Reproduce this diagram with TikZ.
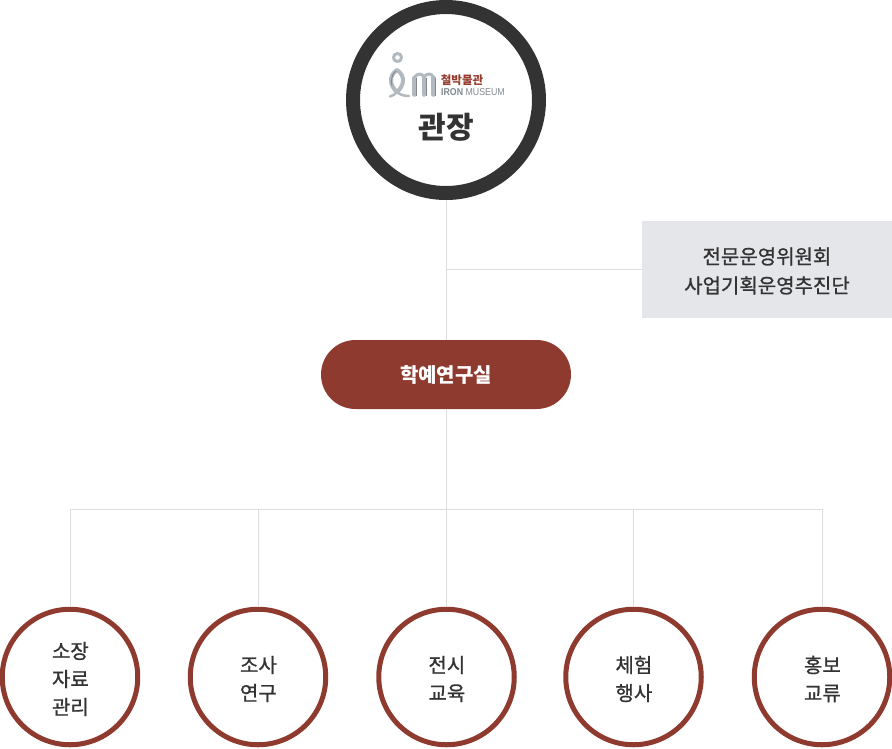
\documentclass[tikz,border=0pt]{standalone}
\usepackage{fontspec}
\setmainfont{Noto Sans CJK KR}
\newfontfamily\medkr[FakeBold=1]{Noto Sans CJK KR}
\newfontfamily\logoen{Liberation Sans}
\usetikzlibrary{positioning}
\definecolor{ringdark}{RGB}{51,51,51}
\definecolor{brick}{RGB}{143,58,46}
\definecolor{wire}{RGB}{221,221,221}
\definecolor{panel}{RGB}{229,230,234}
\definecolor{inktext}{RGB}{51,51,51}
\definecolor{logored}{RGB}{150,60,45}
\definecolor{logogray}{RGB}{130,136,142}
\definecolor{logolight}{RGB}{178,185,191}
\tikzset{
	wireline/.style={wire, line width=1pt},
	deptcircle/.style={circle, draw=brick, line width=5pt, fill=white, minimum size=135.5pt, inner sep=0pt},
	depttext/.style={align=center, text=inktext, inner sep=0pt, font=\medkr\fontsize{20pt}{28pt}\selectfont},
	logostroke/.style={line cap=round, line join=round, logolight}
}
\begin{document}
\begin{tikzpicture}[x=1pt,y=-1pt]
	\useasboundingbox (0,0) rectangle (892,748);
	\coordinate (topc) at (446,100);
	\coordinate (joinside) at (446.5,269);
	\coordinate (joinlow) at (446.5,509);
	\node[circle, draw=ringdark, line width=14pt, fill=white, minimum size=186pt, inner sep=0pt] (head) at (topc) {};
	\node[fill=panel, minimum width=250pt, minimum height=97pt, inner sep=0pt] (board) at (767,269.5) {};
	\node[depttext, font=\medkr\fontsize{20pt}{29pt}\selectfont] (boardlabel) at (767,271) {전문운영위원회\\사업기획운영추진단};
	\node[fill=brick, rounded corners=34.5pt, minimum width=250pt, minimum height=69pt, inner sep=0pt, text=white, font=\fontsize{20pt}{24pt}\selectfont\bfseries] (office) at (446,374.5) {학예연구실};
	\foreach \x/\name/\txt in {70/deptone/소장\\자료\\관리, 258/depttwo/조사\\연구, 446.5/deptthree/전시\\교육, 633.5/deptfour/체험\\행사, 822/deptfive/홍보\\교류}{
		\node[deptcircle] (\name) at (\x,677) {};
		\node[depttext] (\name label) at (\x+0.4,679) {\txt};
		\coordinate (\name top) at (\x+0.4,509);
		\draw[wireline] (\name top) -- (\name.north -| \name top);
	}
	\draw[wireline] (joinside |- head.south) -- (joinside |- office.north);
	\draw[wireline] (joinside |- office.south) -- (joinlow);
	\draw[wireline] (joinside) -- (joinside -| board.west);
	\draw[wireline] (deptonetop) -- (deptfivetop);
	% logo
	\node[text=inktext, font=\fontsize{30pt}{30pt}\selectfont\bfseries] (headlabel) at (446,127) {관장};
	\node[text=logored, font=\fontsize{11.5pt}{12pt}\selectfont\bfseries] (logoko) at (462,80) {철박물관};
	\node[text=logogray, font=\logoen\fontsize{10pt}{12pt}\selectfont, xscale=0.88, anchor=west, inner sep=0pt] (logotag) at (441,92) {\textbf{IRON} MUSEUM};
	\draw[logostroke, line width=3pt] (397.5,57.5) circle (4);
	\draw[logostroke, line width=4pt] (397,92) .. controls (390,86) and (388,76) .. (397,70) .. controls (406,76) and (404,86) .. (397,92);
	\draw[logostroke, line width=2.5pt] (390,96.5) .. controls (393,96) and (395,94) .. (397,92) .. controls (399,94) and (403,96) .. (409,96);
	\draw[logogray, line width=0.8pt] (392,86) .. controls (390.5,80) and (392,74) .. (396,71);
	\foreach \x in {414.5,424,433.5}{
		\draw[logostroke, line width=4.5pt] (\x,78) -- (\x,94.5);
		\draw[logogray, line width=0.7pt] (\x+2.3,78) -- (\x+2.3,96);
	}
	\draw[logostroke, line width=3pt] (414.5,77) .. controls (418,73) and (422,73) .. (424,77) .. controls (427,73) and (431,73) .. (433.5,77);
\end{tikzpicture}
\end{document}
